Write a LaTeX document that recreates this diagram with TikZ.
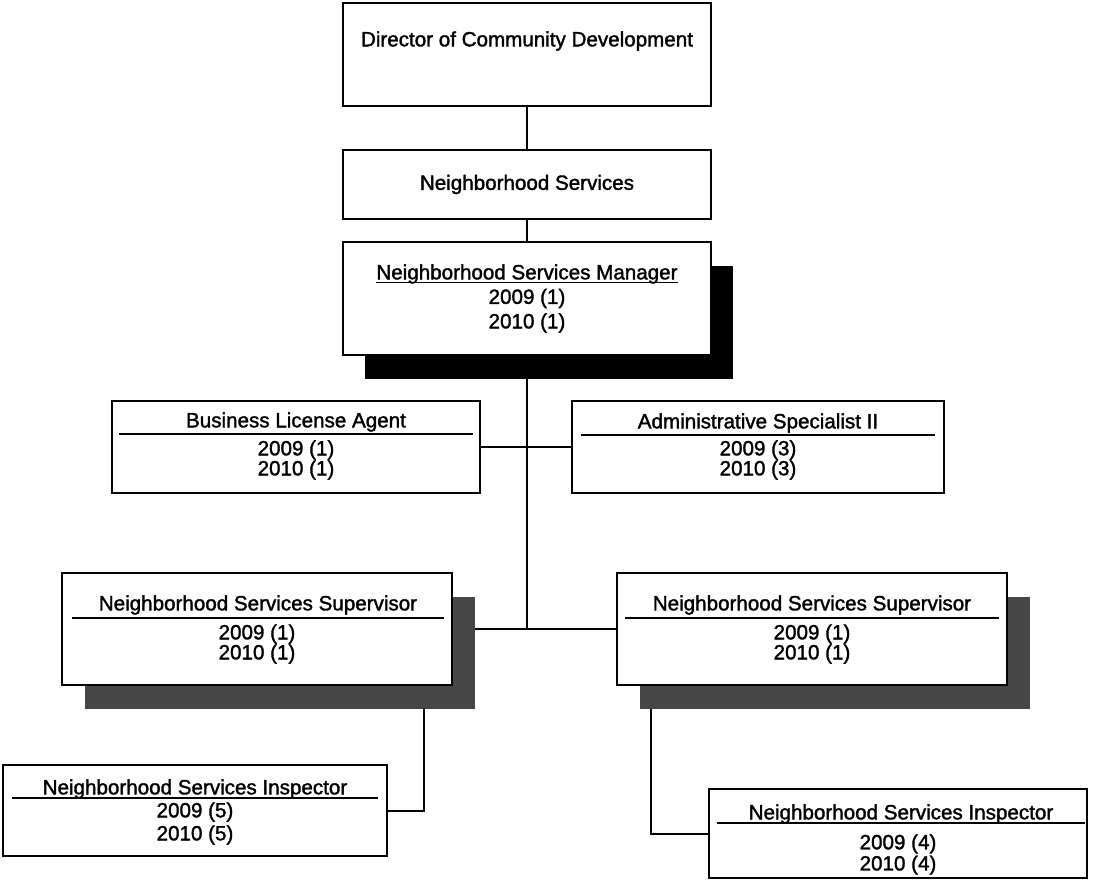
\documentclass[tikz,border=0pt]{standalone}
\usepackage{amsmath}
\usepackage{fontspec}
\setmainfont{Liberation Sans}[BoldFont={Liberation Sans}, BoldFeatures={FakeBold=1.6}]
\usetikzlibrary{positioning, shadows, backgrounds}

\begin{document}
\begin{tikzpicture}[
  x=0.5pt, y=-0.5pt,
  font=\fontsize{10.3}{10}\selectfont\bfseries,
  post/.style={
    draw, rectangle, line width=1.1pt, fill=white,
    inner sep=0pt, align=center
  },
  head/.style={inner sep=0pt, minimum width=#1},
  yrs/.style={inner sep=0pt, align=center, font=\fontsize{10.3}{#1}\selectfont\bfseries},
  yrs/.default=10pt,
  rulel/.style={line width=0.9pt},
  link/.style={line width=1pt},
  blackshadow/.style={drop shadow={shadow xshift=11pt, shadow yshift=-12pt,
    fill=black, opacity=1}},
  greyshadow/.style={drop shadow={shadow xshift=11.5pt, shadow yshift=-12pt,
    fill=black!72, opacity=1}}
]
\useasboundingbox (0,0) rectangle (1093,880);

% --- Top of the chart ---
\node[post, minimum width=184pt, minimum height=51.5pt] (dir) at (527,54.5) {};
\node[inner sep=0pt] (dirt) at (527,41) {Director of Community Development};
\node[post, minimum width=184pt, minimum height=34.5pt] (ns) at (527,184.5)
  {Neighborhood Services};
\node[post, blackshadow, minimum width=184pt, minimum height=56.5pt,
  font=\fontsize{10.3}{12.25}\selectfont\bfseries] (mgr) at (527,298.5)
  {\underline{\smash[b]{Neighborhood Services Manager}}\\2009 (1)\\2010 (1)};

% --- Staff positions ---
\node[post, minimum width=184pt, minimum height=46pt] (bla) at (296,447) {};
\node[head=176.5pt] (blat) at (296,422) {Business License Agent};
\draw[rulel] ([yshift=-6pt]blat.west) -- ([yshift=-6pt]blat.east);
\node[yrs] (blan) at (296,460) {2009 (1)\\2010 (1)};

\node[post, minimum width=186pt, minimum height=46pt] (adm) at (758,447) {};
\node[head=177pt] (admt) at (758,423) {Administrative Specialist II};
\draw[rulel] ([yshift=-6pt]admt.west) -- ([yshift=-6pt]admt.east);
\node[yrs] (admn) at (758,460) {2009 (3)\\2010 (3)};

% --- Supervisors ---
\node[post, greyshadow, minimum width=195pt, minimum height=56pt] (supL) at (257,629) {};
\node[head=186pt] (supLt) at (258,605) {Neighborhood Services Supervisor};
\draw[rulel] ([yshift=-6.5pt]supLt.west) -- ([yshift=-6.5pt]supLt.east);
\node[yrs] (supLn) at (257,644) {2009 (1)\\2010 (1)};

\node[post, greyshadow, minimum width=195pt, minimum height=56pt] (supR) at (812,629) {};
\node[head=187pt] (supRt) at (812,605) {Neighborhood Services Supervisor};
\draw[rulel] ([yshift=-6.5pt]supRt.west) -- ([yshift=-6.5pt]supRt.east);
\node[yrs] (supRn) at (812,644) {2009 (1)\\2010 (1)};

% --- Inspectors ---
\node[post, minimum width=192pt, minimum height=45.5pt] (insL) at (195,810.5) {};
\node[head=183pt] (insLt) at (195,789) {Neighborhood Services Inspector};
\draw[rulel] ([yshift=-4.5pt]insLt.west) -- ([yshift=-4.5pt]insLt.east);
\node[yrs=11.5pt] (insLn) at (195,823.5) {2009 (5)\\2010 (5)};

\node[post, minimum width=189pt, minimum height=44.5pt] (insR) at (898,833.5) {};
\node[head=184pt] (insRt) at (901,814) {Neighborhood Services Inspector};
\draw[rulel] ([yshift=-4.5pt]insRt.west) -- ([yshift=-4.5pt]insRt.east);
\node[yrs=9.5pt] (insRn) at (898,854.5) {2009 (4)\\2010 (4)};

% --- Connectors, behind the boxes ---
\begin{scope}[on background layer]
\draw[link] (dir) -- (ns);
\draw[link] (ns) -- (mgr);
\draw[link] (mgr.south) -- (mgr.south |- supL.east);
\draw[link] (bla) -- (adm);
\draw[link] (supL) -- (supR);
\draw[link] ([xshift=-14.5pt]supL.south east) |- (insL.east);
\draw[link] ([xshift=17.5pt]supR.south west) |- (insR.west);
\end{scope}

\end{tikzpicture}
\end{document}
